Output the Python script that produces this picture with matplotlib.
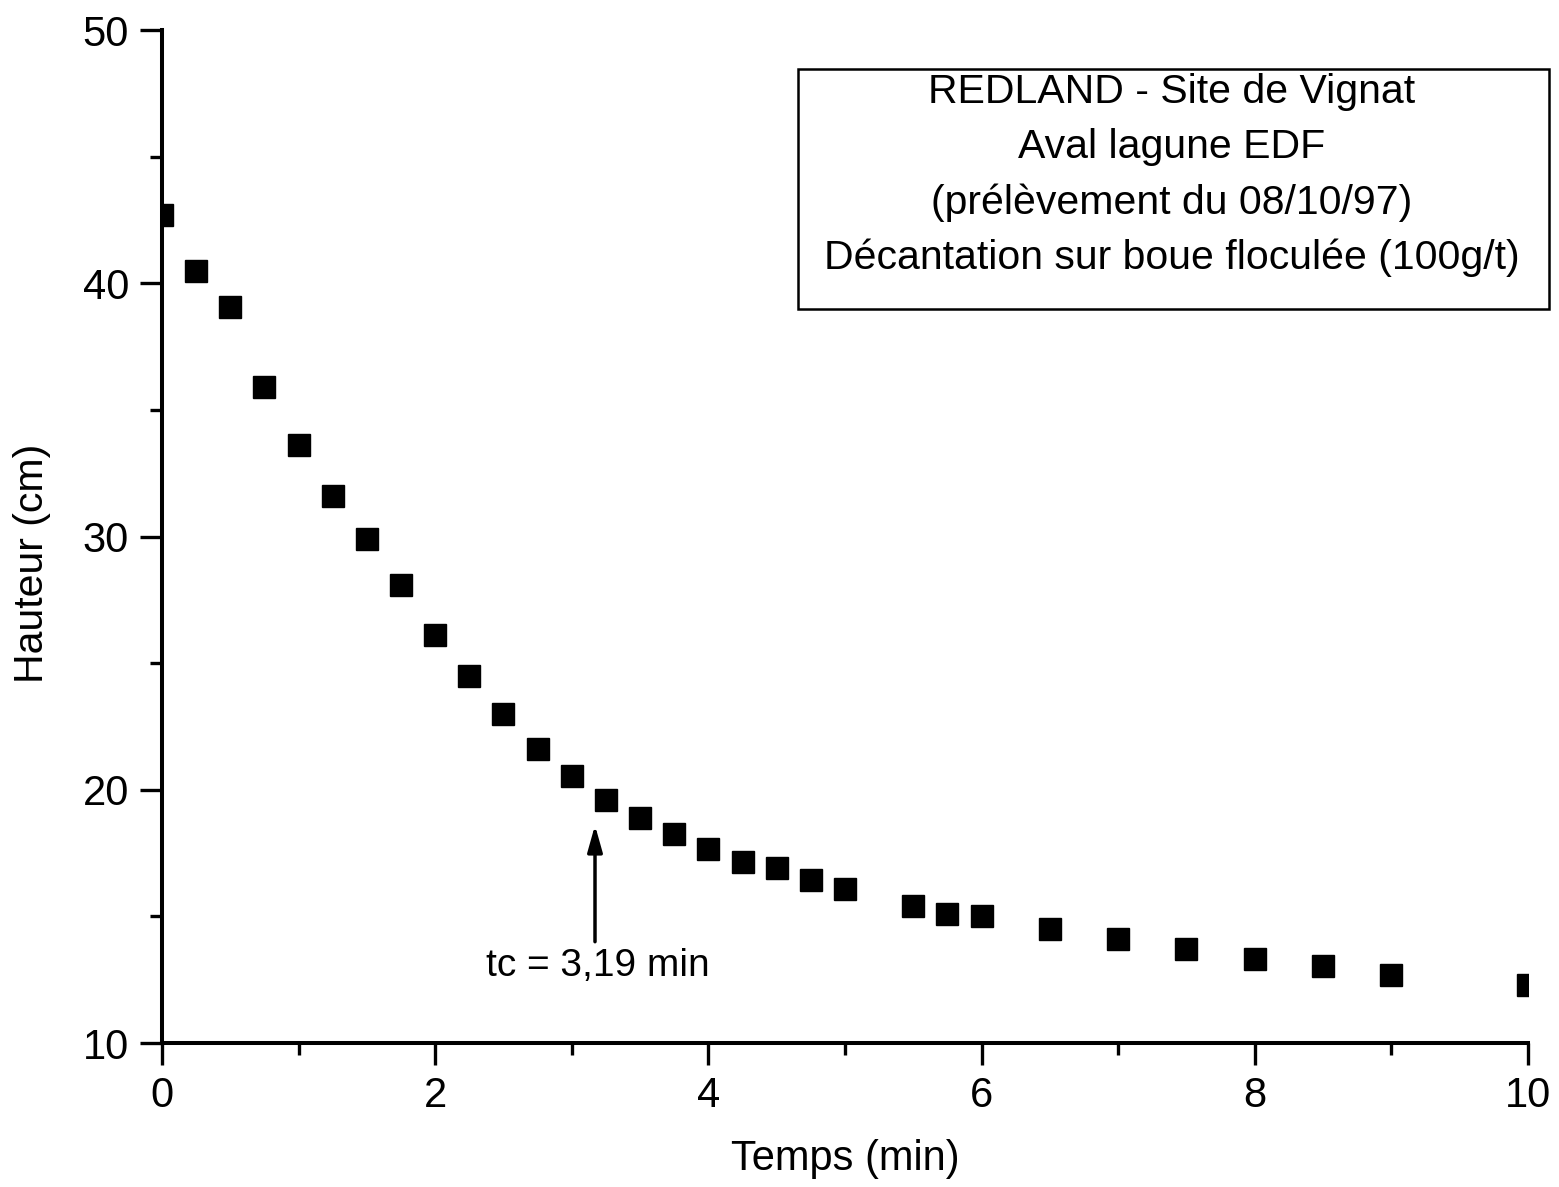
import numpy as np
import matplotlib
matplotlib.use("Agg")
import matplotlib.pyplot as plt
from matplotlib.patches import Rectangle

plt.rcParams['font.family'] = ['Liberation Sans', 'DejaVu Sans']

temps = [0, 0.25, 0.5, 0.75, 1, 1.25, 1.5, 1.75, 2, 2.25, 2.5, 2.75, 3, 3.25,
         3.5, 3.75, 4, 4.25, 4.5, 4.75, 5, 5.5, 5.75, 6, 6.5, 7, 7.5, 8, 8.5,
         9, 10]
hauteur = [42.7, 40.5, 39.05, 35.9, 33.6, 31.6, 29.9, 28.1, 26.1, 24.5, 23.0,
           21.6, 20.55, 19.6, 18.9, 18.25, 17.65, 17.15, 16.9, 16.45, 16.1,
           15.4, 15.1, 15.0, 14.5, 14.1, 13.7, 13.3, 13.05, 12.7, 12.3]

legende = ["REDLAND - Site de Vignat",
           "Aval lagune EDF",
           "(prélèvement du 08/10/97)",
           "Décantation sur boue floculée (100g/t)"]

tc = 3.19

fig = plt.figure(figsize=(15.59, 11.87), dpi=100)
ax = fig.add_axes([0.1039, 0.1213, 0.9801 - 0.1039, 0.9747 - 0.1213])

ax.plot(temps, hauteur, linestyle='none', marker='s', markersize=16.5,
        color='black', clip_on=True)

ax.set_xlim(0, 10)
ax.set_ylim(10, 50)
ax.set_xticks(np.arange(0, 11, 2))
ax.set_xticks(np.arange(1, 10, 2), minor=True)
ax.set_yticks(np.arange(10, 51, 10))
ax.set_yticks(np.arange(15, 50, 10), minor=True)

for s in ['top', 'right']:
    ax.spines[s].set_visible(False)
for s in ['left', 'bottom']:
    ax.spines[s].set_linewidth(2.9)

ax.tick_params(which='major', direction='out', length=15.8, width=2.4,
               labelsize=30, pad=8)
ax.tick_params(which='minor', direction='out', length=8.6, width=2.4)

ax.set_xlabel("Temps (min)", fontsize=30, va='center')
ax.set_ylabel("Hauteur (cm)", fontsize=29.5, va='center')
ax.xaxis.set_label_coords(0.5, -0.1145)
ax.yaxis.set_label_coords(-0.095, 0.473)

ax.annotate("", xy=(tc - 0.02, 18.6), xytext=(tc - 0.02, 14.0),
            arrowprops=dict(arrowstyle='-|>,head_length=1.6,head_width=0.45',
                            color='black', lw=2.5, shrinkA=0, shrinkB=0))
ax.text(tc, 13.05, "tc = 3,19 min", fontsize=28, ha='center', va='center')

fig.patches.append(Rectangle((0.5119, 0.7397), 0.9936 - 0.5119, 0.9419 - 0.7397,
                             transform=fig.transFigure, fill=False,
                             edgecolor='black', linewidth=1.8))
for i, ligne in enumerate(legende):
    fig.text(0.7518, 0.9225 - i * 0.0466, ligne, fontsize=29.5,
             ha='center', va='center')

fig.savefig("out.png", dpi=100)
